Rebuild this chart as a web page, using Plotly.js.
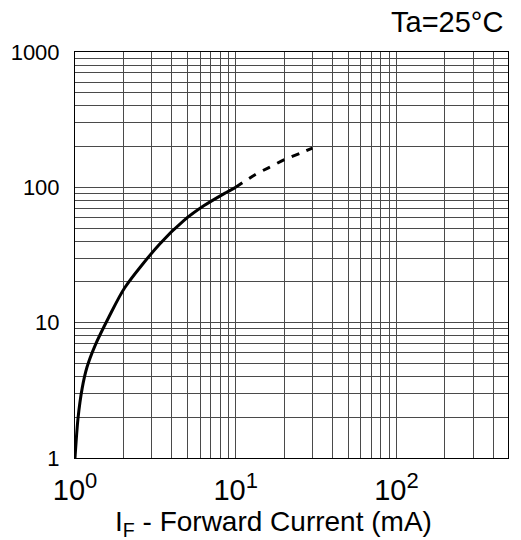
<!DOCTYPE html>
<html>
<head>
<meta charset="utf-8">
<script src="https://cdn.plot.ly/plotly-3.0.1.min.js"></script>
<style>
  html, body { margin: 0; padding: 0; background: #ffffff; }
  #chart { width: 521px; height: 540px; }
</style>
</head>
<body>
<div id="chart"></div>
<script>
const solidX = [1, 1.044, 1.108, 1.187, 1.327, 1.634, 2.044, 3.356, 4.77, 6.36, 8.48, 10];
const solidY = [1, 1.965, 3.27, 4.68, 6.69, 11.15, 18.2, 38.0, 57.0, 73.3, 89.9, 100];
// Extrapolated (dashed) part
const dashX = [10, 13.2, 16.1, 20.1, 25.4, 30];
const dashY = [100, 124, 140, 160, 179, 195];

// Tick labels
const xTickVals = [1, 10, 100];
const xTickText = [
  '10<sup><span style="font-size:22px">0</span></sup>',
  '10<sup><span style="font-size:22px">1</span></sup>',
  '10<sup><span style="font-size:22px">2</span></sup>'
];
const yTickVals = [1, 10, 100, 1000];
const yTickText = ['1', '10', '100', '1000'];
const xTitle = 'I<sub>F</sub> - Forward Current (mA)';
const noteText = 'Ta=25°C';

// minor grid: digits 2..9 of each decade
function minorGrid(decades, maxVal) {
  const vals = [];
  for (const d of decades) {
    for (let k = 2; k <= 9; k++) {
      const v = k * d;
      if (v < maxVal) vals.push(v);
    }
  }
  return vals;
}
const xMax = 495;
const xMinor = minorGrid([1, 10, 100], xMax);
const yMinor = minorGrid([1, 10, 100], 1000);

const FONT = 'Liberation Sans, Arial, sans-serif';
const gridColor = '#4a4a4a';

const traces = [
  {
    x: solidX, y: solidY, type: 'scatter', mode: 'lines',
    line: { color: '#000000', width: 3, shape: 'spline', smoothing: 0.8 },
    hoverinfo: 'skip', showlegend: false
  },
  {
    x: dashX, y: dashY, type: 'scatter', mode: 'lines',
    line: { color: '#000000', width: 3, dash: '8px,8px', shape: 'spline', smoothing: 0.8 },
    hoverinfo: 'skip', showlegend: false
  }
];

const layout = {
  width: 521, height: 540,
  margin: { l: 75, r: 13, t: 52, b: 82, pad: 0 },
  paper_bgcolor: '#ffffff', plot_bgcolor: '#ffffff',
  font: { family: FONT, color: '#000000' },
  showlegend: false,
  xaxis: {
    type: 'log', range: [0, Math.log10(xMax)],
    tickmode: 'array', tickvals: xTickVals, ticktext: xTickText,
    ticks: '', showgrid: true, gridcolor: gridColor, gridwidth: 1,
    minor: { tickmode: 'array', tickvals: xMinor, showgrid: true, gridcolor: gridColor, gridwidth: 1, ticks: '' },
    showline: true, mirror: true, linecolor: '#000000', linewidth: 1,
    zeroline: false, tickfont: { family: FONT, size: 29, color: '#000000' },
    ticklabelstandoff: 6,
    fixedrange: true
  },
  yaxis: {
    type: 'log', range: [0, 3],
    tickmode: 'array', tickvals: yTickVals, ticktext: yTickText,
    ticks: '', showgrid: true, gridcolor: gridColor, gridwidth: 1,
    minor: { tickmode: 'array', tickvals: yMinor, showgrid: true, gridcolor: gridColor, gridwidth: 1, ticks: '' },
    showline: true, mirror: true, linecolor: '#000000', linewidth: 1,
    zeroline: false, tickfont: { family: FONT, size: 22, color: '#000000' },
    ticklabelstandoff: 10,
    fixedrange: true
  },
  annotations: [
    {
      text: noteText, xref: 'paper', yref: 'paper',
      x: (505 - 75) / 433, y: (458 - 22) / 406,
      xanchor: 'right', yanchor: 'middle', showarrow: false,
      font: { family: FONT, size: 29, color: '#000000' }
    },
    {
      text: xTitle, xref: 'paper', yref: 'paper',
      x: (273.5 - 75) / 433, y: (458 - 523) / 406,
      xanchor: 'center', yanchor: 'middle', showarrow: false,
      font: { family: FONT, size: 28, color: '#000000' }
    }
  ]
};

Plotly.newPlot('chart', traces, layout, { staticPlot: true, displayModeBar: false });
</script>
</body>
</html>
